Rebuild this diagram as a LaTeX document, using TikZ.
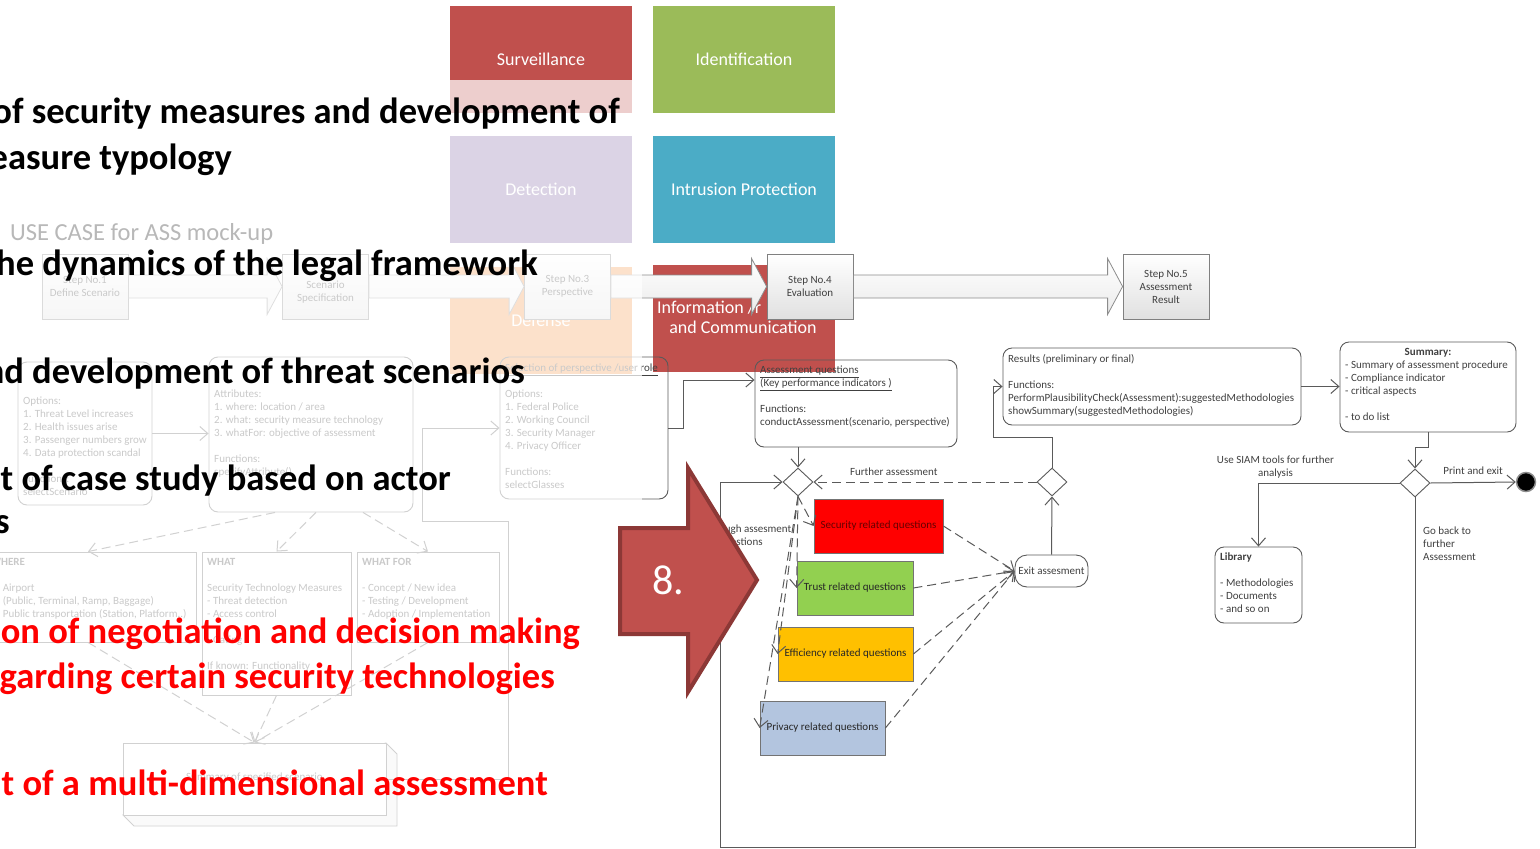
\documentclass[tikz,border=0pt]{standalone}
\usepackage{fontspec}
\setmainfont{Carlito}
\usetikzlibrary{positioning,shapes.geometric,arrows.meta,calc}

\definecolor{survred}{HTML}{C0504D}
\definecolor{identgreen}{HTML}{9BBB59}
\definecolor{detpurple}{HTML}{8064A2}
\definecolor{intrblue}{HTML}{4BACC6}
\definecolor{deforan}{HTML}{F79646}
\definecolor{arrowrim}{HTML}{8C3836}
\definecolor{secred}{HTML}{FF0000}
\definecolor{trustgreen}{HTML}{92D050}
\definecolor{effyellow}{HTML}{FFC000}
\definecolor{privblue}{HTML}{B3C5DF}
\definecolor{lineg}{HTML}{5A5A5A}
\definecolor{txtg}{HTML}{404040}

\newcommand\tinyfont{\fontsize{11}{13}\selectfont}
\newcommand\bigfont{\fontsize{36.5}{42}\selectfont\bfseries}

\newcommand\steparrow[2]{%
  \draw[steparr] ($(#1.east)+(0,-11.5)$) -- ($(#1.east -| #2.west)+(-15,-11.5)$)
    -- ($(#1.east -| #2.west)+(-15,-28)$) -- (#1.east -| #2.west)
    -- ($(#1.east -| #2.west)+(-15,28)$) -- ($(#1.east -| #2.west)+(-15,11.5)$)
    -- ($(#1.east)+(0,11.5)$) -- cycle;}

\tikzset{
  tile/.style={minimum width=182pt, minimum height=107pt, inner sep=0pt, text=white,
    font=\fontsize{18}{21}\selectfont},
  stepbox/.style={draw=black!50, top color=white, bottom color=black!12, line width=0.8pt,
    minimum width=86pt, minimum height=65pt, text=txtg, font=\tinyfont, align=center},
  steparr/.style={draw=black!45, top color=white, bottom color=black!8, line width=0.8pt},
  rbox/.style={draw=lineg, rounded corners=9pt, line width=0.9pt},
  sbox/.style={draw=lineg, line width=0.9pt},
  rtext/.style={anchor=north west, inner sep=0pt, align=left, font=\tinyfont, text=txtg},
  qbox/.style={draw=black!55, line width=0.8pt, minimum width=#1, minimum height=54pt,
    font=\tinyfont, text=black!85},
  gate/.style={diamond, draw=lineg, fill=white, line width=0.9pt, minimum width=30pt,
    minimum height=28pt, inner sep=0pt},
  link/.style={draw=lineg, line width=1pt, -{Straight Barb[length=8pt, width=14pt]}},
  dlink/.style={link, dash pattern=on 9pt off 5pt},
  lbl/.style={font=\tinyfont, text=txtg, align=center, inner sep=1pt},
  bigtxt/.style={font=\bigfont, anchor=base east, inner sep=0pt},
}

\begin{document}
\begin{tikzpicture}[x=1pt,y=-1pt]
\useasboundingbox (0,0) rectangle (1540,849);

% typology tiles
\node[tile, fill=survred] (surv) at (541,59.5) {Surveillance};
\node[tile, fill=identgreen] (ident) at (744,59.5) {Identification};
\node[tile, fill=detpurple] (detect) at (541,189) {Detection};
\node[tile, fill=intrblue] (intru) at (744,189) {Intrusion Protection};
\node[tile, fill=deforan] (defen) at (541,320) {Defense};
\node[tile, fill=survred] (infoc) at (744,318.5) {};
\node[anchor=west, text=white, font=\fontsize{18}{21}\selectfont, inner sep=0pt] (infoa) at (657,308) {Information /r};
\node[text=white, font=\fontsize{18}{21}\selectfont, inner sep=0pt] (infob) at (743,327) {and Communication};

% use case mock-up (faded part)
\node[anchor=west, font=\fontsize{24.5}{28}\selectfont, text=black, inner sep=0pt] (usecase) at (10,234) {USE CASE for ASS mock-up};

\node[stepbox] (fstep1) at (85,286.5) {Step No.1\\Define Scenario};
\node[stepbox] (fstep2) at (325.5,286.5) {};
\node[font=\tinyfont, text=txtg, align=center] (fstep2t) at (325.5,292.5) {Scenario\\Specification};
\node[stepbox] (fstep3) at (567.5,286.5) {Step No.3\\Perspective};
\steparrow{fstep1}{fstep2}
\steparrow{fstep2}{fstep3}

\node[rbox, minimum width=134pt, minimum height=143pt] (fscen) at (85,433.5) {};
\node[rtext] (fscent) at (23,397) {Options:\\1. Threat Level increases\\2. Health issues arise\\3. Passenger numbers grow\\4. Data protection scandal\\[13pt]Functions:\\selectScenario};
\node[rbox, minimum width=204pt, minimum height=155pt] (fattr) at (311,434.5) {};
\node[rtext] (fattrt) at (214,390) {Attributes:\\1. where: location / area\\2. what: security measure technology\\3. whatFor: objective of assessment\\[13pt]Functions:\\specifyAttribute()};
\node[rbox, minimum width=168pt, minimum height=142pt] (fpersp) at (584,428) {};
\node[rtext] (fperspt) at (505,364) {\underline{Selection of perspective /user role}\\[13pt]Options:\\1. Federal Police\\2. Working Council\\3. Security Manager\\4. Privacy Officer\\[13pt]Functions:\\selectGlasses};

\node[sbox, minimum width=216pt, minimum height=90pt] (fwhere) at (88,597) {};
\node[rtext] (fwheret) at (-9,558) {\textbf{WHERE}\\[13pt]1. Airport\\\phantom{1. }(Public, Terminal, Ramp, Baggage)\\2. Public transportation (Station, Platform..)};
\node[sbox, minimum width=149pt, minimum height=143pt] (fwhat) at (276.5,623.5) {};
\node[rtext] (fwhatt) at (207,558) {\textbf{WHAT}\\[13pt]Security Technology Measures\\- Threat detection\\- Access control\\[13pt]- Gating\\[13pt]If known: Functionality};
\node[sbox, minimum width=142pt, minimum height=90pt] (fwhatfor) at (428,597) {};
\node[rtext] (fwhatfort) at (362,558) {\textbf{WHAT FOR}\\[13pt]- Concept / New idea\\- Testing / Development\\- Adoption / Implementation};

\draw[sbox, fill=black!6] (386,743) -- (397,754) -- (397,826) -- (134,826) -- (123,815) -- cycle;
\node[sbox, fill=white, minimum width=263pt, minimum height=72pt] (fsum) at (254.5,779) {};
\node[font=\tinyfont, text=txtg] (fsumt) at (254.5,778) {Summary of specified scenario};

\draw[link] (fscen.east) -- (fscen.east -| fattr.west);
\draw[dlink] ($(fattr.south)+(-36,0)$) -- (fwhere.north);
\draw[dlink] ($(fattr.south)+(5,0)$) -- (fwhat.north);
\draw[dlink] ($(fattr.south)+(52,0)$) -- (fwhatfor.north);
\draw[dlink] (fwhere.south) -- (fsum.north);
\draw[dlink] (fwhat.south) -- (fsum.north);
\draw[dlink] (fwhatfor.south) -- (fsum.north);
\draw[link] (fsum.east) -| (508,521) -- (422,521) -- (422,428) -- (fpersp.west);

% evaluation steps
\node[stepbox] (step5) at (1166,286.5) {Step No.5\\Assessment\\Result};
\node[stepbox] (step4) at (810,286.5) {Step No.4\\Evaluation};
\steparrow{fstep3}{step4}
\node[stepbox] (step4) at (810,286.5) {Step No.4\\Evaluation};
\steparrow{step4}{step5}

% fade the left half
\fill[white, opacity=0.72] (0,80) rectangle (642,849);

% assessment flow
\node[rbox, minimum width=202pt, minimum height=87pt] (aq) at (856,403.5) {};
\node[rtext] (aqt) at (760,366) {\underline{Assessment questions}\\\underline{(Key performance indicators )}\\[13pt]Functions:\\conductAssessment(scenario, perspective)};
\node[rbox, minimum width=298pt, minimum height=77pt] (res) at (1152,386.5) {};
\node[rtext] (rest) at (1008,354) {Results (preliminary or final)\\[13pt]Functions:\\PerformPlausibilityCheck(Assessment):suggestedMethodologies\\showSummary(suggestedMethodologies)};
\node[rbox, minimum width=176pt, minimum height=90pt] (summ) at (1428,387) {};
\node[rtext, anchor=north] (summh) at (1428,348) {\textbf{Summary:}};
\node[rtext] (summt) at (1345,361) {- Summary of assessment procedure\\- Compliance indicator\\- critical aspects\\[13pt]- to do list};
\node[rbox, minimum width=87pt, minimum height=76pt] (lib) at (1258.5,585) {};
\node[rtext] (libt) at (1220,553) {\textbf{Library}\\[13pt]- Methodologies\\- Documents\\- and so on};
\node[rbox, rounded corners=12pt, minimum width=73pt, minimum height=32pt, font=\tinyfont, text=txtg] (ex) at (1051.5,571) {Exit assesment};

\node[gate] (d1) at (798,482) {};
\node[gate] (d2) at (1052,482) {};
\node[gate] (d3) at (1415,483) {};
\node[circle, fill=black, draw=black!45, line width=1.5pt, minimum size=19pt, inner sep=0pt] (fin) at (1526,482) {};

\node[qbox=129pt, fill=secred, text=black!60!red] (sec) at (878.5,526) {Security related questions};
\node[qbox=116pt, fill=trustgreen] (trust) at (855,588) {Trust related questions};
\node[qbox=135pt, fill=effyellow] (eff) at (845.5,654) {Efficiency related questions};
\node[qbox=125pt, fill=privblue] (priv) at (822.5,728) {Privacy related questions};

\draw[link] (fpersp.east) -- (683,428) |- (aq.west |- 0,380);
\draw[link] (aq.south -| d1.north) -- (d1.north);
\draw[dlink] (d2.west) -- node[lbl, above=5pt, pos=0.64] {Further assessment} (d1.east);
\draw[link] (ex.north) -- (d2.south);
\draw[link] (d2.north) |- (993,437) |- (res.west);
\draw[link] (res.east) -- (res.east -| summ.west);
\draw[link] (summ.south) -- ++(0,15) -| (d3.north);
\draw[link] (d3.east) -- node[lbl, above=6pt] {Print and exit} (fin.west);
\draw[link] (d3.west) -| node[lbl, above=3pt, pos=0.44] {Use SIAM tools for further\\analysis} (lib.north);
\draw[link] (d3.south) |- (720,847) |- (d1.west);
\node[lbl, anchor=north west, align=left] (goback) at (1422,526) {Go back to\\further\\Assessment};
\foreach \q in {sec,trust,eff,priv} {
  \draw[dlink] (d1.south) -- (\q.west);
  \draw[dlink] (\q.east) -- (ex.west);
}
\node[lbl] (gothrough) at (741,536) {Go through assesment\\questions};

% step 8 arrow
\draw[arrowrim, fill=survred, line width=4pt, line join=miter]
  (620,528) -- (688,528) -- (688,468) -- (757,580) -- (688,692) -- (688,634) -- (620,634) -- cycle;
\node[text=white, font=\fontsize{42}{48}\selectfont, inner sep=0pt] (eight) at (668,580) {8.};

% slide text
\node[bigtxt] (t1) at (620,123) {of security measures and development of};
\node[bigtxt] (t2) at (232,169) {measure typology};
\node[bigtxt] (t3) at (538,275) {the dynamics of the legal framework};
\node[bigtxt] (t4) at (525,383) {and development of threat scenarios};
\node[bigtxt] (t5) at (451,490) {t of case study based on actor};
\node[bigtxt] (t6) at (10,533) {s};
\node[bigtxt, text=red] (t7) at (580,643) {ion of negotiation and decision making};
\node[bigtxt, text=red] (t8) at (555,688) {regarding certain security technologies};
\node[bigtxt, text=red] (t9) at (548,795) {t of a multi-dimensional assessment};
\end{tikzpicture}
\end{document}
